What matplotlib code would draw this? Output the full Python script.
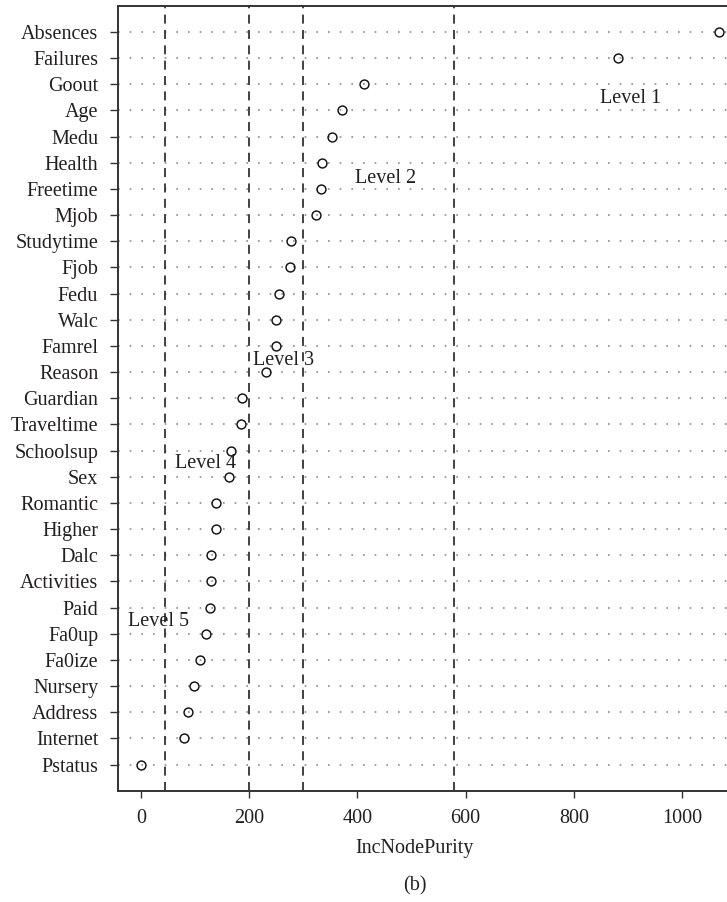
import matplotlib
matplotlib.use("Agg")
import matplotlib.pyplot as plt

# ---- data (top to bottom, as in the chart) ----
features = ["Absences", "Failures", "Goout", "Age", "Medu", "Health", "Freetime",
            "Mjob", "Studytime", "Fjob", "Fedu", "Walc", "Famrel", "Reason",
            "Guardian", "Traveltime", "Schoolsup", "Sex", "Romantic", "Higher",
            "Dalc", "Activities", "Paid", "Fa0up", "Fa0ize", "Nursery",
            "Address", "Internet", "Pstatus"]
inc_node_purity = [1069, 881, 412, 372, 353, 334, 333,
                   324, 278, 276, 255, 250, 249, 231,
                   187, 184, 167, 162, 139, 138,
                   129, 129, 127, 121, 109, 98,
                   87, 79, 0]
level_cutoffs = [44, 200, 300, 578]
level_labels = ["Level 1", "Level 2", "Level 3", "Level 4", "Level 5"]
level_label_x = [905, 452, 264, 120, 33]
level_label_row = [2.56, 5.6, 12.55, 16.5, 22.55]   # row position counted from top (0 = first row)
x_ticks = [0, 200, 400, 600, 800, 1000]
x_label = "IncNodePurity"
caption = "(b)"

plt.rcParams['font.family'] = ['Liberation Serif', 'DejaVu Serif']
TXT = '#231f20'
FS = 14.5

W, H = 727, 902
fig = plt.figure(figsize=(W / 100, H / 100), dpi=100)
ax = fig.add_axes([118.3 / W, (H - 790.7) / H, (W - 118.3) / W, (790.7 - 5.7) / H])

n = len(features)
ys = [n - i for i in range(n)]

# dotted guide lines
for y in ys:
    ax.axhline(y, color='#8a8a8a', lw=1.2, ls=(0, (1, 6.0)), zorder=1)

# level cut-off lines
for c in level_cutoffs:
    ax.axvline(c, color='#333333', lw=1.3, ls=(0, (5, 3.5)), zorder=2)

ax.plot(inc_node_purity, ys, 'o', mfc='none', mec='#111111', ms=6.4, mew=1.05, zorder=3)

for lab, lx, lr in zip(level_labels, level_label_x, level_label_row):
    ax.text(lx, n - lr, lab, ha='center', va='center', fontsize=FS, color=TXT, zorder=4)

ax.set_xlim(-42, 1083)
ax.set_ylim(0, n + 1)
ax.set_yticks(ys)
ax.set_yticklabels(features)
ax.set_xticks(x_ticks)
ax.set_xticklabels([str(t) for t in x_ticks])

ax.tick_params(axis='y', length=5.8, width=1.0, pad=8.6, labelsize=FS, colors='#333333', labelcolor=TXT)
ax.tick_params(axis='x', length=4.8, width=1.0, pad=8.6, labelsize=FS, colors='#333333', labelcolor=TXT)

for s in ['left', 'bottom', 'top']:
    ax.spines[s].set_linewidth(1.4)
    ax.spines[s].set_color('#333333')
ax.spines['right'].set_visible(False)

fig.text(415 / W, 1 - 849 / H, x_label, ha='center', va='center', fontsize=FS, color=TXT)
fig.text(415 / W, 1 - 886 / H, caption, ha='center', va='center', fontsize=FS, color=TXT)

fig.savefig("out.png", dpi=100)
